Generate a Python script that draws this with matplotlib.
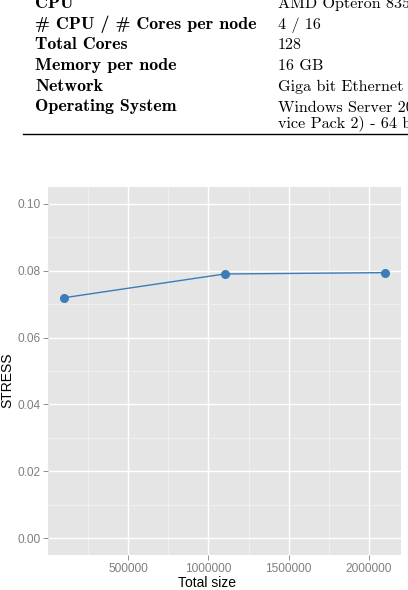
import numpy as np
import matplotlib
matplotlib.use("Agg")
import matplotlib.pyplot as plt

# Tabelle (Hardware-Angaben)
table_keys = ["CPU", "# CPU / # Cores per node", "Total Cores", "Memory per node",
              "Network", "Operating System", ""]
table_vals = ["AMD Opteron 8356", "4 / 16", "128", "16 GB",
              "Giga bit Ethernet", "Windows Server 2008 (Ser-", "vice Pack 2) - 64 bit"]

# Messwerte
total_size = [100000, 1100000, 2100000]
stress = [0.0719, 0.0790, 0.0794]

x_major = [500000, 1000000, 1500000, 2000000]
x_minor = [250000, 750000, 1250000, 1750000]
y_major = [0.00, 0.02, 0.04, 0.06, 0.08, 0.10]
y_minor = [0.01, 0.03, 0.05, 0.07, 0.09]

W, H = 408, 590
fig = plt.figure(figsize=(W / 100, H / 100), dpi=100)

# Tabelle oben (abgeschnitten wie im Original)
row_base = [8, 29, 49.3, 70, 90.7, 111.5, 127.7]
for key, val, yy in zip(table_keys, table_vals, row_base):
    fig.text(35 / W, 1 - yy / H, key, family="cmb10", fontsize=12.9,
             va="baseline", ha="left")
    fig.text(278 / W, 1 - yy / H, val, family="cmr10", fontsize=11.6,
             va="baseline", ha="left")
fig.add_artist(plt.Line2D([23 / W, 1.0], [1 - 134 / H, 1 - 134 / H],
                          color="black", linewidth=1.0))

# Plot im ggplot-Stil
ax = fig.add_axes([48 / W, 1 - 555 / H, (401 - 48) / W, (555 - 187) / H])
ax.set_facecolor("#E5E5E5")
for s in ax.spines.values():
    s.set_visible(False)

ax.plot(total_size, stress, color="#3A7DB8", linewidth=1.0, marker="o",
        markersize=5.5, zorder=3)

ax.set_xlim(0, 2200000)
ax.set_ylim(-0.005, 0.105)
ax.set_xticks(x_major)
ax.set_xticklabels([str(v) for v in x_major])
ax.set_yticks(y_major)
ax.set_yticklabels([f"{v:.2f}" for v in y_major])
ax.set_xticks(x_minor, minor=True)
ax.set_yticks(y_minor, minor=True)

ax.grid(True, which="major", color="white", linewidth=1.0)
ax.grid(True, which="minor", color="#F2F2F2", linewidth=0.6)
ax.set_axisbelow(True)

ax.tick_params(which="major", length=3.5, width=0.6, color="#7F7F7F",
               labelcolor="#7F7F7F", labelsize=8.6, pad=2)
ax.tick_params(which="minor", length=0)
for lab in ax.get_xticklabels() + ax.get_yticklabels():
    lab.set_family("Liberation Sans")

ax.set_xlabel("Total size", family="Liberation Sans", fontsize=10)
ax.set_ylabel("STRESS", family="Liberation Sans", fontsize=10)
ax.xaxis.set_label_coords((207 - 48) / (401 - 48), -(583 - 555) / (555 - 187))
ax.yaxis.set_label_coords(-(48 - 7.5) / (401 - 48), (555 - 380) / (555 - 187))
ax.xaxis.label.set_va("center")
ax.yaxis.label.set_va("center")

fig.savefig("out.png", dpi=100)
